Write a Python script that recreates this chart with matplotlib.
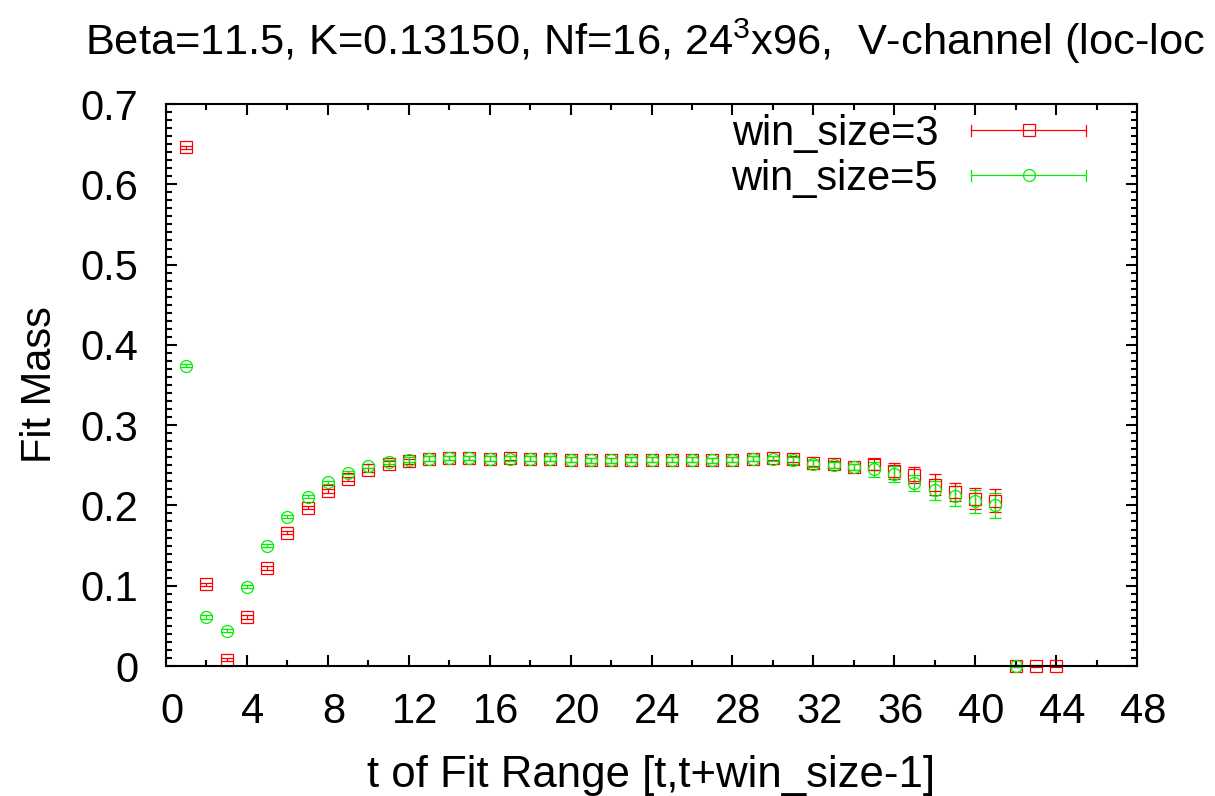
import numpy as np
import matplotlib
matplotlib.use("Agg")
import matplotlib.pyplot as plt
from matplotlib.lines import Line2D
from matplotlib.legend_handler import HandlerBase
from matplotlib.transforms import ScaledTranslation

plt.rcParams['font.family'] = ['Liberation Sans', 'DejaVu Sans']
plt.rcParams['mathtext.fontset'] = 'custom'
plt.rcParams['mathtext.rm'] = 'Liberation Sans'
plt.rcParams['mathtext.it'] = 'Liberation Sans:italic'
plt.rcParams['mathtext.bf'] = 'Liberation Sans:bold'

# ---- data: fitted mass vs. start of fit window ----
t_w3 = list(range(1, 45))
m_w3 = [0.646, 0.102, 0.008, 0.061, 0.122, 0.166, 0.197, 0.218, 0.233, 0.244,
        0.252, 0.255, 0.258, 0.259, 0.259, 0.258, 0.259, 0.258, 0.258, 0.257,
        0.256, 0.256, 0.257, 0.257, 0.257, 0.257, 0.256, 0.257, 0.258, 0.259,
        0.258, 0.253, 0.251, 0.248, 0.251, 0.243, 0.2375, 0.226, 0.217, 0.2085,
        0.206, 0.0, 0.0, 0.0]
e_w3 = [0.002, 0.002, 0.002, 0.002, 0.002, 0.002, 0.002, 0.002, 0.002, 0.002,
        0.003, 0.003, 0.003, 0.003, 0.003, 0.003, 0.003, 0.003, 0.003, 0.003,
        0.003, 0.003, 0.003, 0.003, 0.003, 0.003, 0.003, 0.003, 0.003, 0.003,
        0.004, 0.004, 0.004, 0.004, 0.007, 0.0104, 0.010, 0.0128, 0.0114, 0.0135,
        0.014, 0.001, 0.001, 0.001]

t_w5 = list(range(1, 43))
m_w5 = [0.374, 0.061, 0.044, 0.099, 0.150, 0.186, 0.211, 0.229, 0.241, 0.249,
        0.254, 0.257, 0.258, 0.259, 0.259, 0.258, 0.258, 0.258, 0.258, 0.257,
        0.256, 0.256, 0.257, 0.257, 0.257, 0.257, 0.256, 0.257, 0.258, 0.258,
        0.256, 0.252, 0.250, 0.248, 0.245, 0.239, 0.228, 0.219, 0.212, 0.205,
        0.200, 0.0]
e_w5 = [0.002, 0.002, 0.002, 0.002, 0.002, 0.002, 0.002, 0.002, 0.002, 0.002,
        0.003, 0.003, 0.003, 0.003, 0.003, 0.003, 0.003, 0.003, 0.003, 0.003,
        0.003, 0.003, 0.003, 0.003, 0.003, 0.003, 0.003, 0.003, 0.003, 0.003,
        0.004, 0.004, 0.004, 0.004, 0.009, 0.0104, 0.0104, 0.012, 0.0125, 0.0145,
        0.0156, 0.001]

labels = ["win_size=3", "win_size=5"]
x_ticks = list(range(0, 49, 4))
y_ticks = [0, 0.1, 0.2, 0.3, 0.4, 0.5, 0.6, 0.7]
y_ticklabels = ["0", "0.1", "0.2", "0.3", "0.4", "0.5", "0.6", "0.7"]

RED = '#ff0000'
GREEN = '#00f000'
FS = 30

fig = plt.figure(figsize=(12.15, 7.96), dpi=100)
ax = fig.add_axes([166 / 1215, 1 - 666 / 796, (1137 - 166) / 1215, (666 - 104) / 796])

series = [
    (t_w3, m_w3, e_w3, RED, 's'),
    (t_w5, m_w5, e_w5, GREEN, 'o'),
]
for t, m, e, col, mk in series:
    cont = ax.errorbar(t, m, yerr=e, fmt=mk, color=col, mfc='none', mec=col,
                       ms=8.6, mew=0.9, elinewidth=0.9, capsize=4, capthick=0.9)
    data_line, caplines, barcols = cont.lines
    data_line.set_clip_on(False)
    for art in list(caplines) + list(barcols):
        art.set_clip_on(False)


class HorizErrHandler(HandlerBase):
    """Legend key: horizontal error bar with end caps and a marker in the middle."""

    def create_artists(self, legend, orig_handle, xdescent, ydescent,
                       width, height, fontsize, trans):
        col = orig_handle.get_color()
        mk = orig_handle.get_marker()
        y = height / 2 - ydescent
        x0, x1 = -xdescent, width - xdescent
        cap = 4
        arts = [
            Line2D([x0, x1], [y, y], color=col, lw=0.9),
            Line2D([x0, x0], [y - cap, y + cap], color=col, lw=0.9),
            Line2D([x1, x1], [y - cap, y + cap], color=col, lw=0.9),
            Line2D([(x0 + x1) / 2], [y], marker=mk, ms=8.6, mfc='none',
                   mec=col, mew=0.9, ls='none'),
        ]
        for a in arts:
            a.set_transform(trans)
        return arts


proxies = [Line2D([], [], color=RED, marker='s'),
           Line2D([], [], color=GREEN, marker='o')]
leg = ax.legend(proxies, labels, loc='upper right', frameon=False,
                fontsize=FS, markerfirst=False, handlelength=2.75,
                handletextpad=0.8, labelspacing=0.12,
                bbox_to_anchor=(1 - 51 / 971, 1 - 10 / 562), borderaxespad=0,
                borderpad=0, handler_map={Line2D: HorizErrHandler()})

ax.set_xlim(0, 48)
ax.set_ylim(0, 0.7)
ax.set_xticks(x_ticks)
ax.set_xticks(list(range(2, 48, 4)), minor=True)
ax.set_yticks(y_ticks)
ax.set_yticklabels(y_ticklabels)
ax.set_yticks(np.arange(0, 0.7001, 0.01), minor=True)

ax.tick_params(which='both', direction='in', top=True, right=True,
               width=1.5, labelsize=FS)
ax.tick_params(which='major', length=8)
ax.tick_params(which='minor', length=4)
ax.tick_params(axis='x', which='major', pad=19)
ax.tick_params(axis='y', which='major', pad=20)
for sp in ax.spines.values():
    sp.set_linewidth(1.5)

shift = ScaledTranslation(6 / 100, 0, fig.dpi_scale_trans)
for lab in ax.get_xticklabels():
    lab.set_transform(lab.get_transform() + shift)

ax.set_ylabel("Fit Mass", fontsize=FS, va='center')
ax.yaxis.set_label_coords(-126 / 971, 0.5)
ax.set_xlabel("t of Fit Range [t,t+win_size-1]", fontsize=31.5, va='baseline')
ax.xaxis.set_label_coords(0.5, -(787 - 666) / 562)

fig.text(85 / 1215, 1 - 55 / 796,
         r"Beta=11.5, K=0.13150, Nf=16, 24$^{\mathrm{3}}$x96,  V-channel (loc-loc",
         fontsize=31.2, ha='left', va='baseline')

fig.savefig("out.png", dpi=100)
